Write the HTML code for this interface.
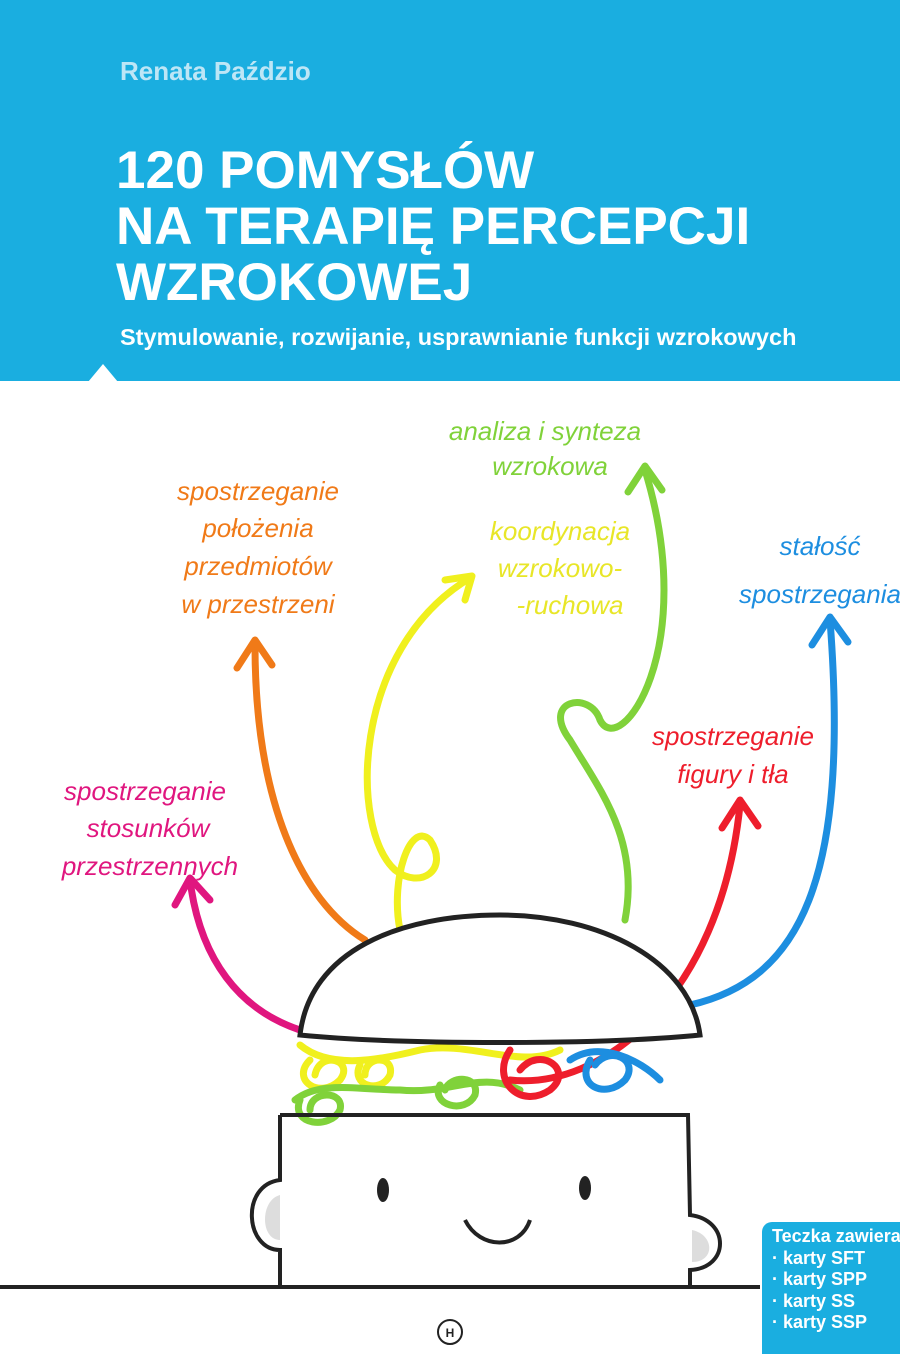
<!DOCTYPE html>
<html><head><meta charset="utf-8"><style>
html,body{margin:0;padding:0;background:#fff}
#c{position:relative;width:900px;height:1354px;overflow:hidden;background:#fff;font-family:"Liberation Sans",sans-serif}
.band{position:absolute;left:0;top:0;width:900px;height:381px;background:#1aaee0}
.t{position:absolute;color:#fff;font-weight:bold;white-space:nowrap}
.hw{font-family:"Liberation Sans",sans-serif;font-style:italic;font-size:26px;text-anchor:middle}
</style></head><body><div id="c">
<div class="band"></div>
<svg style="position:absolute;left:0;top:0" width="900" height="1354">
<polygon points="88,382 103,364 118,382" fill="#fff"/>
<g fill="none" stroke-width="7" stroke-linecap="round" stroke-linejoin="round">
<path d="M300,1030 C240,1010 200,960 190,880" stroke="#e0167f"/>
<path d="M175,905 L190,878 L210,900" stroke="#e0167f"/>
<path d="M365,940 C300,900 255,800 255,645" stroke="#f07a18"/>
<path d="M237,668 L255,640 L272,665" stroke="#f07a18"/>
<path d="M400,930 C390,880 410,820 430,840 C450,870 420,890 395,870 C350,830 350,650 470,578" stroke="#f0f01e"/>
<path d="M445,580 L472,576 L465,600" stroke="#f0f01e"/>
<path d="M300,1045 C330,1070 380,1060 420,1050 C470,1040 520,1070 560,1050" stroke="#f0f01e"/>
<path d="M310,1060 c-20,20 10,40 30,20 c15,-20 -20,-30 -25,-5 M360,1065 c-10,20 20,30 30,10 c5,-20 -25,-20 -25,0" stroke="#f0f01e"/>
<path d="M625,920 C640,840 600,790 570,740 C540,700 590,690 600,720 C620,760 700,650 645,470" stroke="#80d23a"/>
<path d="M628,492 L645,466 L662,490" stroke="#80d23a"/>
<path d="M295,1100 C320,1080 360,1090 400,1090 C450,1095 480,1070 520,1090" stroke="#80d23a"/>
<path d="M300,1100 c-10,25 30,30 40,10 c5,-20 -30,-20 -30,0 M440,1085 c-10,20 25,30 35,10 c5,-20 -25,-20 -30,-5" stroke="#80d23a"/>
<path d="M510,1080 C600,1090 720,1000 740,805" stroke="#ee1e2c"/>
<path d="M722,828 L740,800 L758,826" stroke="#ee1e2c"/>
<path d="M510,1050 c-20,30 10,60 40,40 c25,-20 -10,-45 -30,-20" stroke="#ee1e2c"/>
<path d="M690,1005 C800,980 850,880 830,620" stroke="#1d8ee0"/>
<path d="M812,645 L830,617 L848,642" stroke="#1d8ee0"/>
<path d="M570,1060 C600,1040 640,1060 660,1080" stroke="#1d8ee0"/>
<path d="M590,1060 c-15,25 15,40 35,20 c15,-20 -15,-35 -30,-15" stroke="#1d8ee0"/>
</g>
<path d="M300,1035 C310,950 400,915 500,915 C600,915 690,960 700,1035 C600,1045 400,1045 300,1035 Z" fill="#fff" stroke="#222" stroke-width="5"/>
<path d="M280,1115 L688,1115 L690,1215 C730,1220 730,1268 690,1270 L690,1287 M280,1115 L280,1180 C240,1185 245,1250 280,1250 L280,1287 M0,1287 L760,1287" fill="none" stroke="#222" stroke-width="4"/>
<path d="M280,1195 C260,1200 260,1240 280,1240Z" fill="#ddd"/>
<path d="M692,1230 C715,1235 715,1262 692,1262Z" fill="#ddd"/>
<ellipse cx="383" cy="1190" rx="6" ry="12" fill="#222"/>
<ellipse cx="585" cy="1188" rx="6" ry="12" fill="#222"/>
<path d="M465,1220 C480,1250 520,1250 530,1220" fill="none" stroke="#222" stroke-width="4"/>
<circle cx="450" cy="1332" r="12" fill="none" stroke="#222" stroke-width="2"/>
<text x="450" y="1337" font-size="12" font-weight="bold" text-anchor="middle" fill="#222">H</text>
<g class="hw">
<text x="545" y="440" fill="#80d23a">analiza i synteza</text>
<text x="550" y="475" fill="#80d23a">wzrokowa</text>
<text x="560" y="540" fill="#e8e628">koordynacja</text>
<text x="560" y="577" fill="#e8e628">wzrokowo-</text>
<text x="570" y="614" fill="#e8e628">-ruchowa</text>
<text x="258" y="500" fill="#f07a18">spostrzeganie</text>
<text x="258" y="537" fill="#f07a18">położenia</text>
<text x="258" y="575" fill="#f07a18">przedmiotów</text>
<text x="258" y="613" fill="#f07a18">w przestrzeni</text>
<text x="820" y="555" fill="#1d8ee0">stałość</text>
<text x="820" y="603" fill="#1d8ee0">spostrzegania</text>
<text x="733" y="745" fill="#ee1e2c">spostrzeganie</text>
<text x="733" y="783" fill="#ee1e2c">figury i tła</text>
<text x="145" y="800" fill="#e0167f">spostrzeganie</text>
<text x="148" y="837" fill="#e0167f">stosunków</text>
<text x="150" y="875" fill="#e0167f">przestrzennych</text>
</g>
</svg>
<div class="t" style="left:120px;top:56px;font-size:26px;color:#bde6f6">Renata Paździo</div>
<div class="t" style="left:116px;top:143px;font-size:53px;line-height:56px">120 POMYSŁÓW<br>NA TERAPIĘ PERCEPCJI<br>WZROKOWEJ</div>
<div class="t" style="left:120px;top:324px;font-size:23.5px">Stymulowanie, rozwijanie, usprawnianie funkcji wzrokowych</div>
<div style="position:absolute;left:762px;top:1222px;width:160px;height:132px;background:#1aaee0;border-radius:10px 0 0 0;color:#fff;font-weight:bold;font-size:18px;line-height:21.5px;padding:4px 0 0 10px;white-space:nowrap">Teczka zawiera<br>· karty SFT<br>· karty SPP<br>· karty SS<br>· karty SSP</div>
</div></body></html>
